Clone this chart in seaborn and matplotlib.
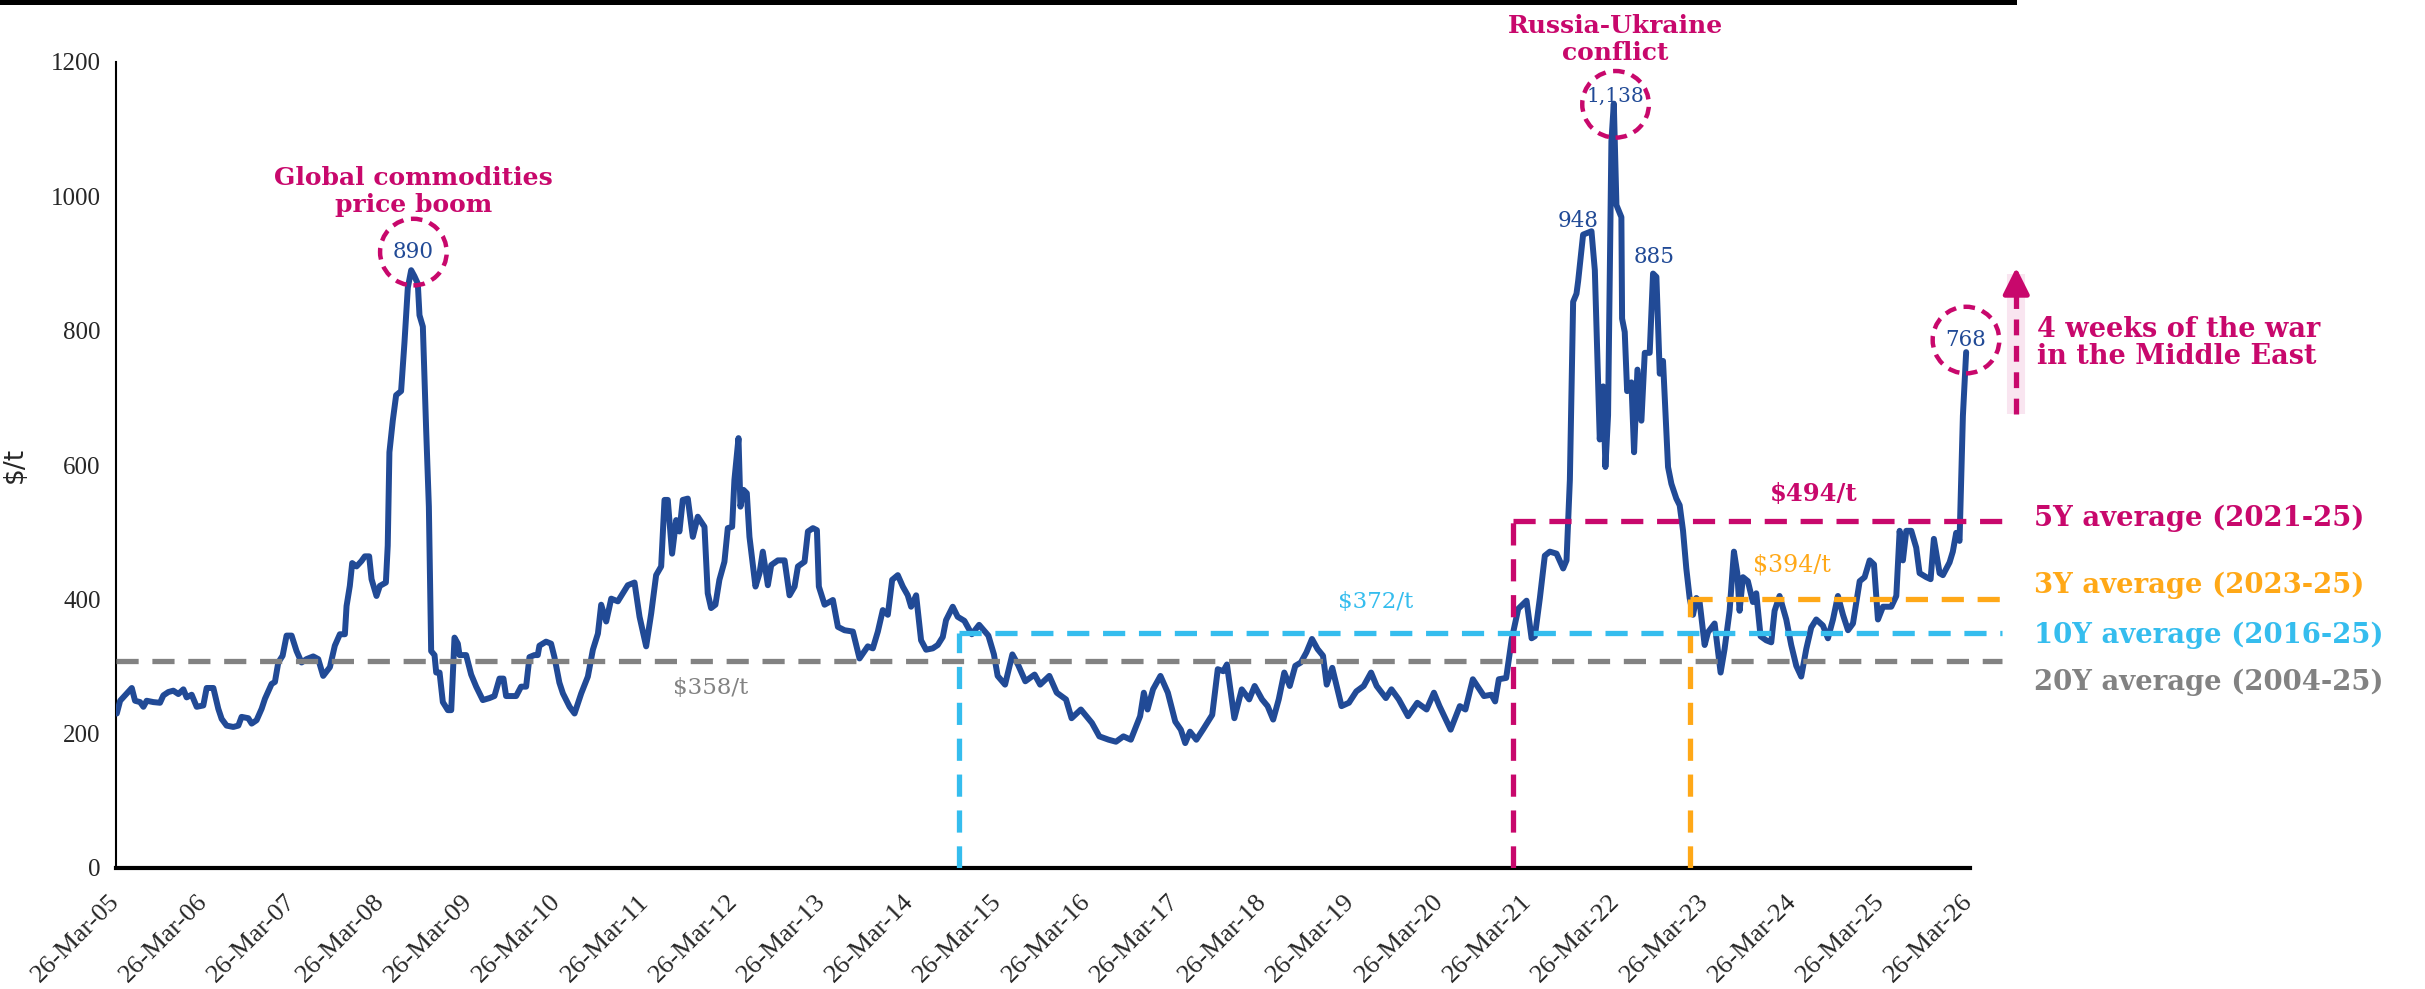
import pandas as pd
import matplotlib
matplotlib.use("Agg")
import matplotlib.pyplot as plt
import seaborn as sns

# -----------------------------
# Data (decimal year, $/t)
# -----------------------------
years = [
    2005.239, 2005.277, 2005.333, 2005.409, 2005.446, 2005.503, 2005.541, 2005.578, 2005.654, 2005.729,
    2005.767, 2005.824, 2005.880, 2005.937, 2005.994, 2006.031, 2006.088, 2006.145, 2006.220, 2006.258,
    2006.334, 2006.390, 2006.428, 2006.484, 2006.560, 2006.617, 2006.654, 2006.730, 2006.768, 2006.824,
    2006.881, 2006.919, 2006.994, 2007.032, 2007.070, 2007.119, 2007.164, 2007.221, 2007.277, 2007.334,
    2007.390, 2007.466, 2007.523, 2007.579, 2007.655, 2007.711, 2007.768, 2007.825, 2007.844, 2007.881,
    2007.908, 2007.957, 2008.013, 2008.051, 2008.100, 2008.127, 2008.183, 2008.221, 2008.289, 2008.310,
    2008.329, 2008.367, 2008.405, 2008.461, 2008.499, 2008.537, 2008.575, 2008.612, 2008.650, 2008.669,
    2008.707, 2008.744, 2008.775, 2008.801, 2008.839, 2008.858, 2008.896, 2008.933, 2008.990, 2009.028,
    2009.065, 2009.103, 2009.122, 2009.197, 2009.254, 2009.311, 2009.386, 2009.462, 2009.518, 2009.575,
    2009.620, 2009.650, 2009.764, 2009.820, 2009.877, 2009.915, 2009.971, 2010.009, 2010.028, 2010.103,
    2010.160, 2010.198, 2010.254, 2010.294, 2010.370, 2010.426, 2010.502, 2010.577, 2010.634, 2010.691,
    2010.728, 2010.785, 2010.842, 2010.917, 2010.974, 2011.030, 2011.106, 2011.163, 2011.238, 2011.295,
    2011.351, 2011.408, 2011.446, 2011.483, 2011.532, 2011.578, 2011.615, 2011.653, 2011.710, 2011.767,
    2011.823, 2011.899, 2011.936, 2011.974, 2012.023, 2012.068, 2012.125, 2012.163, 2012.212, 2012.238,
    2012.284, 2012.306, 2012.340, 2012.378, 2012.408, 2012.476, 2012.522, 2012.559, 2012.616, 2012.654,
    2012.729, 2012.805, 2012.861, 2012.918, 2012.956, 2013.031, 2013.069, 2013.126, 2013.171, 2013.193,
    2013.258, 2013.352, 2013.409, 2013.484, 2013.579, 2013.654, 2013.748, 2013.805, 2013.862, 2013.918,
    2013.975, 2014.024, 2014.088, 2014.145, 2014.201, 2014.239, 2014.296, 2014.352, 2014.409, 2014.484,
    2014.541, 2014.598, 2014.635, 2014.711, 2014.767, 2014.843, 2014.927, 2015.010, 2015.115, 2015.178,
    2015.220, 2015.304, 2015.387, 2015.450, 2015.534, 2015.639, 2015.702, 2015.806, 2015.890, 2015.995,
    2016.058, 2016.163, 2016.288, 2016.372, 2016.477, 2016.560, 2016.644, 2016.728, 2016.833, 2016.875,
    2016.917, 2016.979, 2017.063, 2017.147, 2017.231, 2017.294, 2017.344, 2017.398, 2017.470, 2017.545,
    2017.650, 2017.713, 2017.775, 2017.817, 2017.901, 2017.985, 2018.069, 2018.131, 2018.215, 2018.278,
    2018.341, 2018.404, 2018.467, 2018.529, 2018.592, 2018.655, 2018.718, 2018.781, 2018.844, 2018.906,
    2018.948, 2019.011, 2019.116, 2019.200, 2019.284, 2019.367, 2019.451, 2019.514, 2019.619, 2019.682,
    2019.765, 2019.870, 2019.975, 2020.080, 2020.163, 2020.226, 2020.352, 2020.456, 2020.519, 2020.603,
    2020.729, 2020.813, 2020.855, 2020.897, 2020.980, 2021.043, 2021.117, 2021.211, 2021.268, 2021.305,
    2021.362, 2021.418, 2021.475, 2021.551, 2021.626, 2021.664, 2021.702, 2021.739, 2021.777, 2021.796,
    2021.852, 2021.947, 2021.985, 2022.041, 2022.079, 2022.105, 2022.135, 2022.173, 2022.200, 2022.230,
    2022.286, 2022.294, 2022.324, 2022.351, 2022.400, 2022.430, 2022.468, 2022.513, 2022.551, 2022.607,
    2022.645, 2022.683, 2022.721, 2022.758, 2022.815, 2022.853, 2022.909, 2022.947, 2022.985, 2023.022,
    2023.060, 2023.098, 2023.136, 2023.173, 2023.230, 2023.268, 2023.343, 2023.411, 2023.456, 2023.513,
    2023.562, 2023.600, 2023.626, 2023.664, 2023.720, 2023.777, 2023.815, 2023.864, 2023.928, 2023.985,
    2024.023, 2024.079, 2024.155, 2024.211, 2024.268, 2024.324, 2024.381, 2024.437, 2024.494, 2024.569,
    2024.626, 2024.683, 2024.739, 2024.796, 2024.853, 2024.909, 2024.985, 2025.041, 2025.098, 2025.147,
    2025.192, 2025.249, 2025.343, 2025.400, 2025.438, 2025.475, 2025.513, 2025.570, 2025.626, 2025.664,
    2025.740, 2025.789, 2025.826, 2025.891, 2025.928, 2026.004, 2026.041, 2026.079, 2026.117, 2026.155,
    2026.192,
]
prices = [
    230, 249, 257, 268, 249, 247, 240, 249, 247, 246,
    257, 262, 264, 259, 266, 254, 258, 240, 242, 268,
    268, 237, 222, 212, 210, 212, 225, 223, 215, 220,
    237, 252, 274, 277, 306, 316, 346, 346, 323, 306,
    311, 315, 311, 286, 299, 331, 348, 348, 390, 420,
    454, 449, 457, 464, 464, 430, 405, 420, 425, 480,
    619, 666, 704, 710, 782, 864, 890, 881, 870, 823,
    806, 654, 538, 323, 317, 291, 291, 247, 235, 235,
    343, 334, 317, 317, 288, 270, 250, 253, 256, 282,
    282, 256, 256, 270, 270, 314, 317, 317, 331, 337,
    334, 314, 276, 260, 240, 230, 260, 285, 325, 349,
    392, 367, 401, 397, 409, 421, 425, 374, 330, 379,
    436, 449, 548, 548, 468, 518, 501, 548, 550, 493,
    523, 508, 409, 387, 392, 429, 456, 506, 508, 578,
    640, 538, 563, 558, 493, 419, 439, 471, 421, 451,
    458, 458, 406, 419, 449, 456, 501, 506, 503, 419,
    392, 399, 359, 354, 352, 312, 330, 327, 352, 384,
    377, 429, 436, 419, 406, 389, 406, 339, 325, 327,
    332, 344, 369, 389, 374, 368, 348, 362, 346, 318,
    286, 273, 318, 303, 278, 288, 273, 286, 261, 251,
    223, 236, 216, 196, 191, 188, 196, 191, 226, 261,
    236, 266, 286, 261, 218, 206, 186, 203, 191, 206,
    228, 296, 293, 303, 223, 266, 251, 271, 251, 241,
    221, 251, 291, 271, 301, 306, 321, 341, 326, 316,
    273, 298, 241, 246, 263, 271, 291, 271, 253, 266,
    251, 226, 246, 236, 261, 241, 206, 241, 236, 281,
    256, 258, 248, 281, 283, 341, 386, 398, 342, 345,
    402, 465, 471, 468, 446, 458, 578, 843, 855, 874,
    943, 948, 890, 638, 717, 597, 674, 1082, 1138, 987,
    969, 818, 798, 710, 723, 619, 742, 666, 767, 767,
    885, 880, 736, 755, 597, 572, 550, 540, 502, 446,
    402, 377, 402, 396, 332, 351, 364, 291, 326, 383,
    471, 439, 383, 433, 427, 396, 409, 345, 339, 336,
    383, 405, 370, 332, 301, 285, 326, 358, 370, 361,
    342, 370, 405, 377, 354, 364, 427, 433, 458, 452,
    370, 389, 389, 405, 502, 458, 502, 502, 477, 439,
    433, 430, 490, 439, 436, 455, 471, 499, 487, 673,
    768,
]

# average lines: label, drawn level, start (decimal year), value label
avg_names = ["5Y average (2021-25)", "3Y average (2023-25)", "10Y average (2016-25)", "20Y average (2004-25)"]
avg_levels = [517, 400, 350, 308]
avg_starts = [2021.06, 2023.06, 2014.78, 2005.23]
avg_values = ["$494/t", "$394/t", "$372/t", "$358/t"]

# circled / labelled peaks
circle_years = [2008.60, 2022.22, 2026.19]
circle_levels = [917, 1137, 786]
circle_texts = ["890", "1,138", "768"]
circle_text_levels = [917, 1149, 786]

BLUE = "#214a96"
MAG = "#c8086c"
ORANGE = "#ffa817"
CYAN = "#35bdee"
GRAY = "#828282"
avg_colors = [MAG, ORANGE, CYAN, GRAY]


def to_date(y):
    yr = int(y)
    start = pd.Timestamp(yr, 1, 1)
    days = (pd.Timestamp(yr + 1, 1, 1) - start).days
    return start + pd.Timedelta(days=(y - yr) * days)


df = pd.DataFrame({"date": [to_date(y) for y in years], "price": prices})

sns.set_style("white")
plt.rcParams["font.family"] = ["DejaVu Serif", "DejaVu Sans"]

fig = plt.figure(figsize=(24.25, 9.89), dpi=100)
ax = fig.add_axes([116 / 2425, 1 - 868 / 989, (1970 - 116) / 2425, (868 - 62) / 989])

sns.lineplot(data=df, x="date", y="price", color=BLUE, lw=4.3, ax=ax, zorder=5)

ax.set_xlim(pd.Timestamp("2005-03-26"), pd.Timestamp("2026-03-28"))
ax.set_ylim(0, 1200)
ax.set_yticks(range(0, 1201, 200))
ax.set_yticklabels([str(v) for v in range(0, 1201, 200)], family="Liberation Serif", fontsize=18)
ax.set_ylabel("$/t", fontsize=19, family="DejaVu Sans")
ax.yaxis.set_label_coords(-0.0475, 0.5)
ax.set_xlabel("")

tick_dates = [pd.Timestamp(f"{y}-03-26") for y in range(2005, 2027)]
ax.set_xticks(tick_dates)
ax.set_xticklabels([d.strftime("%d-%b-%y") for d in tick_dates], rotation=45,
                   ha="right", va="center", rotation_mode="anchor", fontsize=19,
                   family="Liberation Serif")
ax.tick_params(axis="x", length=0, pad=22)
ax.tick_params(axis="y", direction="inout", length=10, width=1.5, pad=6)

for side in ["top", "right"]:
    ax.spines[side].set_visible(False)
ax.spines["left"].set_linewidth(1.5)
ax.spines["bottom"].set_linewidth(3)
ax.spines["left"].set_color("black")
ax.spines["bottom"].set_color("black")

end_date = to_date(2026.6)
dash = (0, (4.2, 2.6))
for name, lvl, st, val, col in zip(avg_names, avg_levels, avg_starts, avg_values, avg_colors):
    d0 = to_date(st)
    ax.plot([d0, end_date], [lvl, lvl], color=col, lw=3.8, ls=dash, clip_on=False, zorder=6)
    if st > 2005.5:
        ax.plot([d0, d0], [0, lvl], color=col, lw=3.8, ls=dash, zorder=6)

# right-hand legend texts
right_x = to_date(2026.96)
right_y = [521, 421, 347, 277]
for name, ry, col in zip(avg_names, right_y, avg_colors):
    ax.text(right_x, ry, name, color=col, fontsize=19.8, fontweight="bold", va="center", ha="left", clip_on=False)

# value labels of the averages
ax.text(to_date(2011.97), 268, "$358/t", color=GRAY, fontsize=16.5, ha="center", va="center")
ax.text(to_date(2019.50), 396, "$372/t", color=CYAN, fontsize=16.5, ha="center", va="center")
ax.text(to_date(2024.46), 557, "$494/t", color=MAG, fontsize=17.5, fontweight="bold", ha="center", va="center")
ax.text(to_date(2024.22), 451, "$394/t", color=ORANGE, fontsize=17, ha="center", va="center")

# circled peaks
ax.scatter([to_date(y) for y in circle_years], circle_levels, s=2300, facecolors="none",
           edgecolors=MAG, linewidths=3.2, linestyles=(0, (2.6, 1.7)), zorder=7, clip_on=False)
for y, lvl, t in zip(circle_years, circle_text_levels, circle_texts):
    ax.text(to_date(y), lvl, t, color=BLUE, fontsize=14.5 if "," in t else 15.5,
            ha="center", va="center", zorder=8, clip_on=False)

ax.text(to_date(2021.79), 963, "948", color=BLUE, fontsize=15.5, ha="center", va="center")
ax.text(to_date(2022.66), 910, "885", color=BLUE, fontsize=15.5, ha="center", va="center")

ax.text(to_date(2008.60), 1007, "Global commodities\nprice boom", color=MAG, fontsize=18,
        fontweight="bold", ha="center", va="center", linespacing=1.15)
ax.text(to_date(2022.22), 1233, "Russia-Ukraine\nconflict", color=MAG, fontsize=18,
        fontweight="bold", ha="center", va="center", linespacing=1.15, clip_on=False)

# arrow for the Middle East war
arrow_x = to_date(2026.76)
ax.plot([arrow_x, arrow_x], [676, 885], color=MAG, lw=13, alpha=0.10, clip_on=False, solid_capstyle="butt")
ax.plot([arrow_x, arrow_x], [676, 860], color=MAG, lw=3.8, ls=(0, (3, 2)), clip_on=False)
ax.annotate("", xy=(arrow_x, 898), xytext=(arrow_x, 850), annotation_clip=False,
            arrowprops=dict(arrowstyle="-|>", color=MAG, lw=3.5, mutation_scale=40))
ax.text(to_date(2026.99), 782, "4 weeks of the war\nin the Middle East", color=MAG, fontsize=19.5,
        fontweight="bold", ha="left", va="center", linespacing=1.0, clip_on=False)

# black rule at the top
fig.add_artist(plt.Rectangle((0, 1 - 5 / 989), 2017 / 2425, 5 / 989, transform=fig.transFigure,
                             color="black", lw=0))

fig.savefig("out.png", dpi=100)
